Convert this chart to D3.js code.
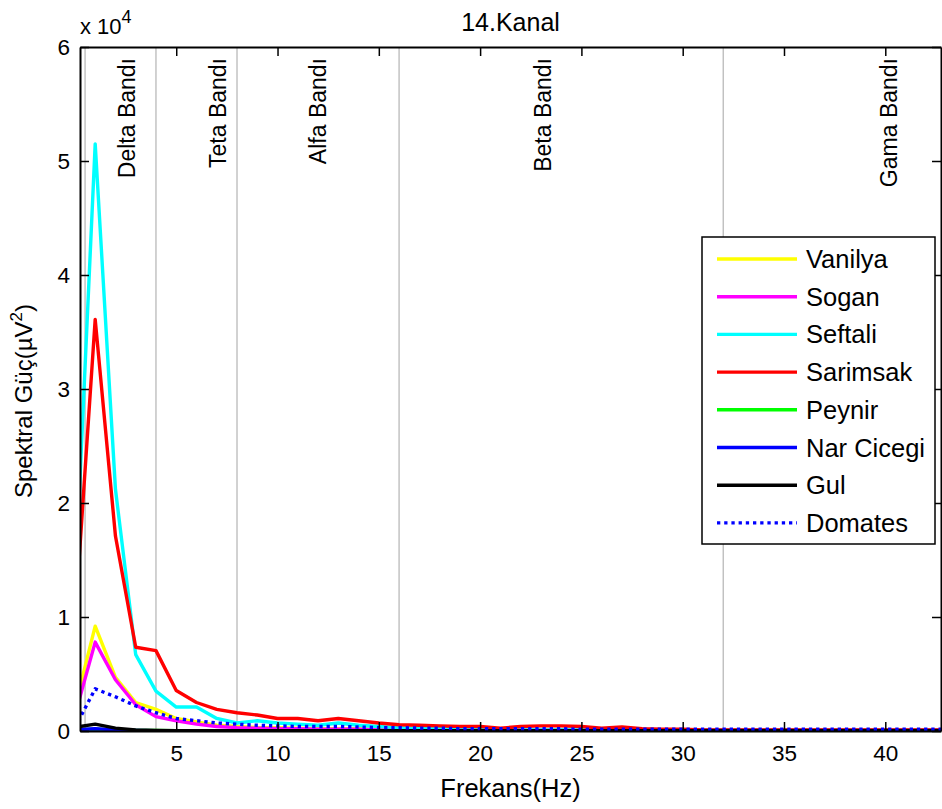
<!DOCTYPE html>
<html>
<head>
<meta charset="utf-8">
<script src="https://cdn.jsdelivr.net/npm/d3@7"></script>
<style>
  body { margin: 0; background: #fff; }
  svg { display: block; font-family: "Liberation Sans", Arial, sans-serif; }
</style>
</head>
<body>
<svg id="chart" width="942" height="809"></svg>
<script>
// ---------------- DATA ----------------
const frequencies = [0,1,2,3,4,5,6,7,8,9,10,11,12,13,14,15,16,17,18,19,20,21,22,23,24,25,26,27,28,29,30,31,32,33,34,35,36,37,38,39,40,41,42,43];

const vanilya   = [2100,9200,4700,2500,1900,1100,800,500,400,300,300,250,200,200,200,150,150,100,100,100,100,80,80,80,80,80,80,80,80,80,80,80,80,80,80,80,80,80,80,80,80,80,80,80];
const sogan     = [1400,7800,4500,2300,1260,900,600,400,300,250,200,200,150,150,150,100,100,100,80,80,80,80,80,80,80,80,80,80,80,80,80,80,80,80,80,80,80,80,80,80,80,80,80,80];
const seftali   = [12400,51500,21200,6700,3500,2100,2100,1100,700,900,700,600,500,700,500,400,300,200,200,200,150,100,100,100,100,100,100,100,80,80,80,80,80,80,80,80,80,80,80,80,80,80,80,80];
const sarimsak  = [9600,36100,17100,7350,7050,3550,2500,1900,1600,1400,1100,1100,900,1100,900,700,550,500,450,400,400,250,400,450,450,400,250,350,200,150,150,100,100,100,100,100,100,100,100,100,100,100,100,100];
const peynir    = [100,150,80,50,40,30,20,20,20,20,20,20,20,20,20,20,20,20,20,20,20,20,20,20,20,20,20,20,20,20,20,20,20,20,20,20,20,20,20,20,20,20,20,20];
const narCicegi = [100,200,100,50,30,20,20,20,20,20,20,20,20,20,20,20,20,20,20,20,20,20,20,20,20,20,20,20,20,20,20,20,20,20,20,20,20,20,20,20,20,20,20,20];
const gul       = [330,600,250,100,50,30,20,20,20,20,20,20,20,20,20,20,20,20,20,20,20,20,20,20,20,20,20,20,20,20,20,20,20,20,20,20,20,20,20,20,20,20,20,20];
const domates   = [300,3700,3000,2200,1600,1100,900,700,600,500,450,400,400,400,350,300,300,250,250,200,200,200,200,200,200,150,150,150,150,150,150,150,150,150,150,150,150,150,150,150,150,150,150,150];

const seriesNames = ["Vanilya","Sogan","Seftali","Sarimsak","Peynir","Nar Cicegi","Gul","Domates"];
const seriesValues = [vanilya, sogan, seftali, sarimsak, peynir, narCicegi, gul, domates];
const seriesColors = ["#ffff00","#ff00ff","#00ffff","#ff0000","#00ff00","#0000ff","#000000","#0000ff"];
const seriesDashed = [false,false,false,false,false,false,false,true];

const bandEdges  = [0.5, 4, 8, 16, 32];
const bandLabels = ["Delta Bandı","Teta Bandı","Alfa Bandı","Beta Bandı","Gama Bandı"];
const bandLabelPos = [2.57, 7.06, 12.0, 23.1, 40.2];

const xTicks = [5,10,15,20,25,30,35,40];
const yTicks = [0,10000,20000,30000,40000,50000,60000];
const xDomain = [0.25, 42.75];
const yDomain = [0, 60000];

const titleText = "14.Kanal";
const xLabel = "Frekans(Hz)";

// ---------------- LAYOUT ----------------
const L = 80, R = 941, T = 47, B = 731;
const svg = d3.select("#chart");

const x = d3.scaleLinear().domain(xDomain).range([L, R]);
const y = d3.scaleLinear().domain(yDomain).range([B, T]);

svg.append("defs").append("clipPath").attr("id","plotclip")
  .append("rect").attr("x", L).attr("y", T).attr("width", R - L).attr("height", B - T);

// band divider lines
svg.append("g").selectAll("line").data(bandEdges).join("line")
  .attr("x1", d => x(d)).attr("x2", d => x(d))
  .attr("y1", T).attr("y2", B)
  .attr("stroke", "#b4b4b4").attr("stroke-width", 1.2);

// band labels
svg.append("g").selectAll("text").data(bandLabels).join("text")
  .attr("transform", (d,i) => `translate(${x(bandLabelPos[i])},58) rotate(-90)`)
  .attr("text-anchor", "end")
  .attr("dominant-baseline", "central")
  .attr("font-size", 23)
  .attr("fill", "#000")
  .text(d => d);

// series lines
const line = d3.line().x((d,i) => x(frequencies[i])).y(d => y(d));
const gLines = svg.append("g").attr("clip-path", "url(#plotclip)");
seriesValues.forEach((vals, k) => {
  gLines.append("path")
    .datum(vals)
    .attr("d", line)
    .attr("fill", "none")
    .attr("stroke", seriesColors[k])
    .attr("stroke-width", 3.4)
    .attr("stroke-linejoin", "round")
    .attr("stroke-dasharray", seriesDashed[k] ? "3.3,3.9" : null);
});

// axes
const fmtY = d => d3.format("d")(d / 10000);
const axB = svg.append("g").attr("transform", `translate(0,${B})`)
  .call(d3.axisBottom(x).tickValues(xTicks).tickSize(-9).tickPadding(14).tickSizeOuter(0));
const axL = svg.append("g").attr("transform", `translate(${L},0)`)
  .call(d3.axisLeft(y).tickValues(yTicks).tickFormat(fmtY).tickSize(-9).tickPadding(10).tickSizeOuter(0));
const axT = svg.append("g").attr("transform", `translate(0,${T})`)
  .call(d3.axisTop(x).tickValues(xTicks).tickFormat("").tickSize(-9).tickSizeOuter(0));
const axR = svg.append("g").attr("transform", `translate(${R},0)`)
  .call(d3.axisRight(y).tickValues(yTicks).tickFormat("").tickSize(-9).tickSizeOuter(0));

[axB, axL, axT, axR].forEach(g => {
  g.select(".domain").attr("stroke", "#000").attr("stroke-width", 2);
  g.selectAll(".tick line").attr("stroke", "#000").attr("stroke-width", 1.5);
  g.selectAll(".tick text").attr("font-size", 22.5).attr("fill", "#000")
    .attr("font-family", '"Liberation Sans", Arial, sans-serif');
});

// exponent label
const expo = svg.append("text").attr("x", 80).attr("y", 34).attr("font-size", 22).attr("fill", "#000");
expo.append("tspan").text("x 10");
expo.append("tspan").attr("font-size", 18).attr("dy", -11).text("4");

// title
svg.append("text").attr("x", (L + R) / 2).attr("y", 31)
  .attr("text-anchor", "middle").attr("font-size", 25).attr("fill", "#000").text(titleText);

// x label
svg.append("text").attr("x", (L + R) / 2).attr("y", 797)
  .attr("text-anchor", "middle").attr("font-size", 25.5).attr("fill", "#000").text(xLabel);

// y label
const yl = svg.append("text")
  .attr("transform", "translate(32,401) rotate(-90)")
  .attr("text-anchor", "middle").attr("font-size", 24).attr("fill", "#000");
yl.append("tspan").text("Spektral Güç(µV");
yl.append("tspan").attr("font-size", 17).attr("dy", -10).text("2");
yl.append("tspan").attr("dy", 10).text(")");

// legend
const lg = svg.append("g");
lg.append("rect").attr("x", 702).attr("y", 237).attr("width", 233).attr("height", 307)
  .attr("fill", "#fff").attr("stroke", "#000").attr("stroke-width", 1.5);
const rows = lg.selectAll("g.row").data(seriesNames).join("g")
  .attr("transform", (d,i) => `translate(0,${259 + i * 37.7})`);
rows.append("line").attr("x1", 717).attr("x2", 797).attr("y1", 0).attr("y2", 0)
  .attr("stroke", (d,i) => seriesColors[i]).attr("stroke-width", 3.4)
  .attr("stroke-dasharray", (d,i) => seriesDashed[i] ? "3.3,3.9" : null);
rows.append("text").attr("x", 806).attr("y", 0).attr("dominant-baseline", "central")
  .attr("font-size", 25.5).attr("fill", "#000").text(d => d);
</script>
</body>
</html>
